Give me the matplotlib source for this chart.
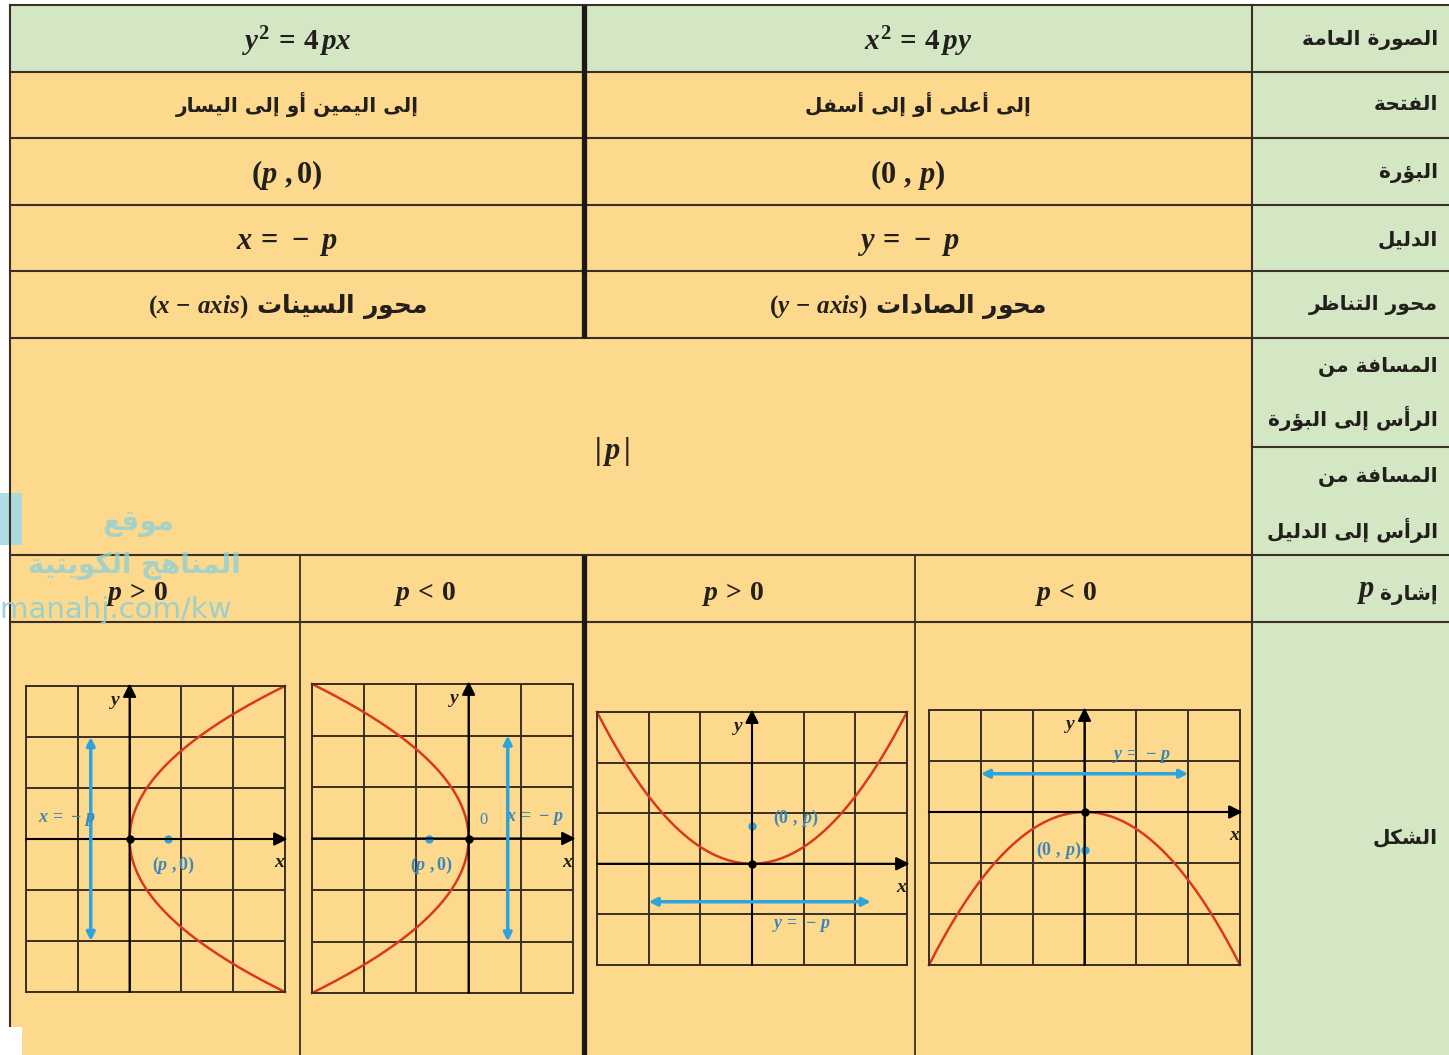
import matplotlib.pyplot as plt
import numpy as np
from matplotlib.patches import Rectangle

W, H = 1449, 1055

# matplotlib does not join arabic letters, so pick the presentation forms by hand
AR_FORMS = {}
for ch, base in [('ا', 0xFE8D), ('أ', 0xFE83), ('إ', 0xFE87), ('آ', 0xFE81), ('ؤ', 0xFE85),
                 ('ة', 0xFE93), ('د', 0xFEA9), ('ذ', 0xFEAB), ('ر', 0xFEAD), ('ز', 0xFEAF),
                 ('و', 0xFEED), ('ى', 0xFEEF)]:
    AR_FORMS[ch] = (base, base + 1, None, None)
for ch, base in [('ب', 0xFE8F), ('ت', 0xFE95), ('ث', 0xFE99), ('ج', 0xFE9D), ('ح', 0xFEA1),
                 ('خ', 0xFEA5), ('س', 0xFEB1), ('ش', 0xFEB5), ('ص', 0xFEB9), ('ض', 0xFEBD),
                 ('ط', 0xFEC1), ('ظ', 0xFEC5), ('ع', 0xFEC9), ('غ', 0xFECD), ('ف', 0xFED1),
                 ('ق', 0xFED5), ('ك', 0xFED9), ('ل', 0xFEDD), ('م', 0xFEE1), ('ن', 0xFEE5),
                 ('ه', 0xFEE9), ('ي', 0xFEF1), ('ئ', 0xFE89)]:
    AR_FORMS[ch] = (base, base + 1, base + 2, base + 3)
LAM_ALEF = {'ا': 0xFEFB, 'أ': 0xFEF7, 'إ': 0xFEF9, 'آ': 0xFEF5}


def joins_next(c):
    return c in AR_FORMS and AR_FORMS[c][2] is not None


def ar(text):
    res = []
    i = 0
    n = len(text)
    while i < n:
        c = text[i]
        if c not in AR_FORMS:
            res.append(c)
            i += 1
            continue
        conn_prev = i > 0 and joins_next(text[i-1])
        if c == 'ل' and i + 1 < n and text[i+1] in LAM_ALEF:
            res.append(chr(LAM_ALEF[text[i+1]] + (1 if conn_prev else 0)))
            i += 2
            continue
        conn_next = joins_next(c) and i + 1 < n and text[i+1] in AR_FORMS
        f = AR_FORMS[c]
        if conn_prev and conn_next:
            code = f[3]
        elif conn_prev:
            code = f[1]
        elif conn_next:
            code = f[2]
        else:
            code = f[0]
        res.append(chr(code))
        i += 1
    return ''.join(res)[::-1]


# ---- data
row_labels = ['الصورة العامة', 'الفتحة', 'البؤرة', 'الدليل', 'محور التناظر']
dist_labels = [['المسافة من', 'الرأس إلى البؤرة'], ['المسافة من', 'الرأس إلى الدليل']]
sign_label = 'إشارة'
shape_label = 'الشكل'

eqs = [r'$y^2\,=\,4\,px$', r'$x^2\,=\,4\,py$']
openings = ['إلى اليمين أو إلى اليسار', 'إلى أعلى أو إلى أسفل']
foci = [r'$(p\ ,0)$', r'$(0\ ,\,p)$']
directrices = [r'$x\,=\,-\ p$', r'$y\,=\,-\ p$']
sym_axes = [r'$(x\,-\,axis)$', r'$(y\,-\,axis)$']
sym_words = ['محور السينات', 'محور الصادات']
dist_value = r'$|\,p\,|$'
signs = [r'$p\,>\,0$', r'$p\,<\,0$', r'$p\,>\,0$', r'$p\,<\,0$']

# one panel per sign column
p_vals = [0.75, -0.75, 0.75, -0.75]
orient = ['h', 'h', 'v', 'v']
x_ranges = [(-2, 3), (-3, 2), (-3, 3), (-3, 3)]
y_ranges = [(-3, 3), (-3, 3), (-2, 3), (-3, 2)]
dir_span = [(-2, 2), (-2, 2), (-2, 2.3), (-2, 2)]
focus_txt = [r'$(p\ ,0)$', r'$(p\ ,0)$', r'$(0\ ,\,p)$', r'$(0\ ,\,p)$']
dir_txt = [r'$x\,=\,-\,p$', r'$x\,=\,-\,p$', r'$y\,=\,-\,p$', r'$y\,=\,-\,p$']

# ---- style / layout
plt.rcParams['mathtext.fontset'] = 'custom'
plt.rcParams['mathtext.rm'] = 'Liberation Serif:bold'
plt.rcParams['mathtext.it'] = 'Liberation Serif:italic:bold'
plt.rcParams['mathtext.bf'] = 'Liberation Serif:bold'
plt.rcParams['font.family'] = ['DejaVu Sans']

GREEN = '#d4e7c5'
ORANGE = '#fdd98d'
LINE = '#3a2f24'
DARK = '#1c1815'
RED = '#d8391f'
BLUE = '#2ea4dc'
BLUE_T = '#3d86b9'
TXT = '#231f1c'

rows = [5, 72, 138, 205, 271, 338, 555, 622]
xl, xm, xr_, xe = 10, 584, 1252, 1449
cells_left = (xl + xm) / 2
cells_right = (xm + xr_) / 2

fig = plt.figure(figsize=(W / 100, H / 100), dpi=100)
ax = fig.add_axes([0, 0, 1, 1])
ax.set_xlim(0, W)
ax.set_ylim(H, 0)
ax.axis('off')

ax.add_patch(Rectangle((xl, 5), xe - xl, 67, color=GREEN, lw=0))
ax.add_patch(Rectangle((xl, 72), xr_ - xl, H - 72, color=ORANGE, lw=0))
ax.add_patch(Rectangle((xr_, 72), xe - xr_, H - 72, color=GREEN, lw=0))

for y in rows:
    ax.plot([xl, xe], [y, y], color=LINE, lw=1.5)
ax.plot([xr_, xe], [447, 447], color=LINE, lw=1.5)
ax.plot([xl, xl], [5, 1027], color=LINE, lw=1.5)
ax.plot([xr_, xr_], [5, H], color=LINE, lw=1.5)
for x in [300, 915]:
    ax.plot([x, x], [555, H], color=LINE, lw=1.3)
ax.plot([xm, xm], [5, 338], color=DARK, lw=3.8, solid_capstyle='butt')
ax.plot([xm, xm], [555, H], color=DARK, lw=3.8, solid_capstyle='butt')

AR_KW = dict(fontsize=14.5, color=TXT, weight='bold')

# right label column
label_y = [40, 104, 173, 240, 305]
for t, y in zip(row_labels, label_y):
    ax.text(1438, y, ar(t), ha='right', va='center', **AR_KW)
for pair, (y1, y2) in zip(dist_labels, [(367, 418), (477, 530)]):
    ax.text(1438, y1, ar(pair[0]), ha='right', va='center', **AR_KW)
    ax.text(1438, y2, ar(pair[1]), ha='right', va='center', **AR_KW)
ax.text(1438, 595, ar(sign_label), ha='right', va='center', **AR_KW)
ax.text(1374, 592, r'$p$', ha='right', va='center', fontsize=22, color=TXT)
ax.text(1438, 838, ar(shape_label), ha='right', va='center', **AR_KW)

# two data columns
for k, cx in enumerate([cells_left - 10, cells_right - 10]):
    ax.text(cx + 10, 42, eqs[k], ha='center', va='center', fontsize=21, color=TXT)
    ax.text(cx + 10, 104, ar(openings[k]), ha='center', va='center', **AR_KW)
    ax.text(cx, 175, foci[k], ha='center', va='center', fontsize=22, color=TXT)
    ax.text(cx, 243, directrices[k], ha='center', va='center', fontsize=22, color=TXT)
    ax.text(cx, 307, sym_axes[k] + ' ' + ar(sym_words[k]), ha='center', va='center',
            fontsize=18, color=TXT, weight='bold')
ax.text(612, 452, dist_value, ha='center', va='center', fontsize=22, color=TXT)

for t, cx in zip(signs, [137, 425, 733, 1066]):
    ax.text(cx, 594, t, ha='center', va='center', fontsize=20, color=TXT)

# watermark
WM = '#8fcfd6'
ax.add_patch(Rectangle((0, 493), 22, 52, color='#a4d9e3', lw=0, alpha=0.9))
ax.text(138, 523, ar('موقع'), ha='center', va='center', fontsize=20, weight='bold', color=WM, alpha=0.8)
ax.text(134, 566, ar('المناهج الكويتية'), ha='center', va='center', fontsize=20, weight='bold', color=WM, alpha=0.8)
ax.text(232, 610, 'almanahj.com/kw', ha='right', va='center', fontsize=21, color=WM, alpha=0.9)

ax.add_patch(Rectangle((0, 1027), 22, 28, color='white', lw=0, zorder=5))

# ---- the four small graphs
panel_px = [(26, 686, 285, 992), (312, 684, 573, 993), (597, 712, 907, 965), (929, 710, 1240, 965)]
for k in range(4):
    x0, y0, x1, y1 = panel_px[k]
    a = fig.add_axes([x0 / W, 1 - y1 / H, (x1 - x0) / W, (y1 - y0) / H])
    a.set_facecolor('none')
    a.set_xlim(x_ranges[k])
    a.set_ylim(y_ranges[k])
    a.set_xticks(np.arange(x_ranges[k][0], x_ranges[k][1] + 1))
    a.set_yticks(np.arange(y_ranges[k][0], y_ranges[k][1] + 1))
    a.tick_params(length=0, labelbottom=False, labelleft=False)
    a.grid(True, color=LINE, lw=1.4)
    for s in a.spines.values():
        s.set_color(LINE)
        s.set_linewidth(1.4)
    p = p_vals[k]
    xa, xb = x_ranges[k]
    ya, yb = y_ranges[k]
    arr = dict(arrowstyle='-|>', color='black', lw=1.5, mutation_scale=20, shrinkA=0, shrinkB=0)
    a.annotate('', xy=(0, yb + 0.05), xytext=(0, ya), arrowprops=arr, annotation_clip=False)
    a.annotate('', xy=(xb + 0.05, 0), xytext=(xa, 0), arrowprops=arr, annotation_clip=False)
    d = dict(arrowstyle='<|-|>', color=BLUE, lw=2.5, mutation_scale=12, shrinkA=0, shrinkB=0)
    s0, s1 = dir_span[k]
    if orient[k] == 'h':
        t = np.linspace(ya, yb, 200)
        a.plot(t ** 2 / (4 * p), t, color=RED, lw=1.8, clip_on=False)
        a.plot([p], [0], 'o', color=BLUE, ms=5)
        a.annotate('', xy=(-p, s1), xytext=(-p, s0), arrowprops=d)
    else:
        t = np.linspace(xa, xb, 200)
        a.plot(t, t ** 2 / (4 * p), color=RED, lw=1.8, clip_on=False)
        a.plot([0], [p], 'o', color=BLUE, ms=5)
        a.annotate('', xy=(s1, -p), xytext=(s0, -p), arrowprops=d)
    a.plot([0], [0], 'o', color='black', ms=5)

    a.text(-0.15, yb - 0.3, r'$y$', ha='right', va='center', fontsize=14, color=TXT)
    a.text(xb - 0.1, -0.45, r'$x$', ha='center', va='center', fontsize=14, color=TXT)

    if k == 0:
        a.text(p + 0.1, -0.52, focus_txt[k], ha='center', va='center', fontsize=13, color=BLUE_T)
        a.text(-0.65, 0.4, dir_txt[k], ha='right', va='center', fontsize=13, color=BLUE_T)
    elif k == 1:
        a.text(p + 0.05, -0.52, focus_txt[k], ha='center', va='center', fontsize=13, color=BLUE_T)
        a.text(0.72, 0.4, dir_txt[k], ha='left', va='center', fontsize=13, color=BLUE_T)
        a.text(0.28, 0.35, '0', ha='center', va='center', fontsize=12, color=BLUE_T, family='Liberation Serif')
    elif k == 2:
        a.text(0.4, 0.9, focus_txt[k], ha='left', va='center', fontsize=13, color=BLUE_T)
        a.text(0.95, -1.2, dir_txt[k], ha='center', va='center', fontsize=13, color=BLUE_T)
    else:
        a.text(-0.05, -0.75, focus_txt[k], ha='right', va='center', fontsize=13, color=BLUE_T)
        a.text(1.1, 1.1, dir_txt[k], ha='center', va='center', fontsize=13, color=BLUE_T)

fig.savefig('out.png', dpi=100)
